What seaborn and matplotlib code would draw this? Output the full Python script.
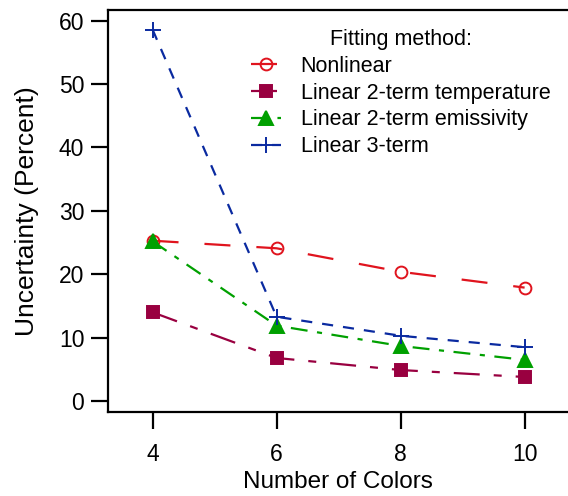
import numpy as np
import pandas as pd
import matplotlib
matplotlib.use("Agg")
import matplotlib.pyplot as plt
import seaborn as sns

colors_n = [4, 6, 8, 10]
nonlinear = [25.3, 24.1, 20.4, 17.9]
lin2_temp = [14.0, 6.8, 4.9, 3.8]
lin2_emis = [25.2, 11.9, 8.7, 6.5]
lin3 = [58.6, 13.3, 10.3, 8.5]

names = ["Nonlinear", "Linear 2-term temperature", "Linear 2-term emissivity", "Linear 3-term"]
values = [nonlinear, lin2_temp, lin2_emis, lin3]

sns.set_theme(style="ticks")
plt.rcParams['font.family'] = ['Liberation Sans', 'DejaVu Sans']
for k in ["text.color", "axes.labelcolor", "xtick.color", "ytick.color", "axes.edgecolor"]:
    plt.rcParams[k] = "black"

# style per series: colour, marker, marker face, dash pattern
styles = {
    "Nonlinear": dict(color="#e0141e", marker="o", mfc="none", ms=8.5, ls=(0, (11.7, 11.7))),
    "Linear 2-term temperature": dict(color="#990040", marker="s", mfc="#990040", ms=8.5, ls=(0, (11.7, 6.3, 3.6, 6.3))),
    "Linear 2-term emissivity": dict(color="#00a000", marker="^", mfc="#00a000", ms=9.5, ls=(0, (7.6, 4.3, 2.3, 4.3))),
    "Linear 3-term": dict(color="#0a2aa0", marker="+", mfc="#0a2aa0", ms=11, ls=(0, (5, 4.5))),
}

fig = plt.figure(figsize=(5.68, 4.96), dpi=100)
ax = fig.add_axes([0.19, 0.169, 0.81, 0.811])

for name, vals in zip(names, values):
    st = styles[name]
    df = pd.DataFrame({"colors": colors_n, "unc": vals})
    sns.lineplot(data=df, x="colors", y="unc", ax=ax, color=st["color"], linewidth=1.6,
                 linestyle=st["ls"], marker=st["marker"], markersize=st["ms"],
                 markerfacecolor=st["mfc"], markeredgecolor=st["color"], markeredgewidth=1.4,
                 label=name)

ax.set_xlim(3.28, 10.7)
ax.set_ylim(-1.75, 61.7)
ax.set_xticks([4, 6, 8, 10])
ax.set_yticks([0, 10, 20, 30, 40, 50, 60])
ax.set_xlabel("Number of Colors", fontsize=17.5, labelpad=4)
ax.set_ylabel("Uncertainty (Percent)", fontsize=19, labelpad=14)
ax.tick_params(axis="both", direction="out", length=12, width=1.6, labelsize=16.5)
ax.tick_params(axis="x", pad=10)
ax.tick_params(axis="y", pad=5)
for s in ["left", "bottom", "top"]:
    ax.spines[s].set_linewidth(1.6)
ax.spines["right"].set_visible(False)

leg = ax.legend(title="Fitting method:", loc="upper left", bbox_to_anchor=(0.311, 0.9525),
                frameon=False, fontsize=15.5, title_fontsize=15.5, handlelength=1.4,
                handletextpad=0.9, labelspacing=0.27, borderpad=0, borderaxespad=0)

fig.savefig("out.png", dpi=100)
